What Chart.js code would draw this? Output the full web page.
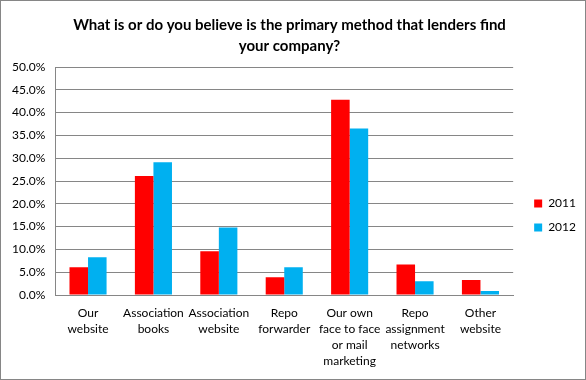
<!DOCTYPE html>
<html><head><meta charset="utf-8">
<script src="https://cdn.jsdelivr.net/npm/chart.js@4/dist/chart.umd.min.js"></script>
<style>
html,body{margin:0;padding:0;background:#fff;}
#wrap{position:absolute;left:0;top:0;width:584px;height:378px;border:1px solid #868686;}
</style></head>
<body><div id="wrap"><canvas id="c" width="584" height="378"></canvas></div>
<script>
const categories = [["Our","website"],["Association","books"],["Association","website"],["Repo","forwarder"],["Our own","face to face","or mail","marketing"],["Repo","assignment","networks"],["Other","website"]];
const series2011 = [6.1, 26.1, 9.6, 3.9, 42.8, 6.7, 3.3];
const series2012 = [8.3, 29.1, 14.8, 6.1, 36.5, 3.0, 0.9];
const yTicks = [0,5,10,15,20,25,30,35,40,45,50];
const FONT = "Lato, 'Liberation Sans', sans-serif";
const legendShift = {
  id:'legendShift',
  afterLayout(chart){
    const L = chart.legend; if(!L) return;
    L.top += 24; L.bottom += 24; L.left += 9; L.right += 9;
  }
};
new Chart(document.getElementById('c'), {
  type: 'bar',
  data: {
    labels: categories,
    datasets: [
      {label:'2011', data: series2011, backgroundColor:'#FF0000', borderWidth:0},
      {label:'2012', data: series2012, backgroundColor:'#00B0F0', borderWidth:0}
    ]
  },
  plugins:[legendShift],
  options: {
    responsive:false, animation:false,
    layout:{padding:{left:1,right:8,top:3,bottom:0}},
    datasets:{bar:{categoryPercentage:0.567,barPercentage:1}},
    plugins:{
      title:{display:true,text:["What is or do you believe is the primary method that lenders find","your company?"],
        color:'#000',font:{family:FONT,size:15,weight:'bold',lineHeight:1.4},padding:{top:11,bottom:10}},
      legend:{position:'right',labels:{boxWidth:8,boxHeight:8,padding:12,color:'#000',font:{family:FONT,size:12}}},
      tooltip:{enabled:false}
    },
    scales:{
      x:{grid:{display:false,drawTicks:false},border:{color:'#868686'},
        ticks:{color:'#000',font:{family:FONT,size:12,lineHeight:'16px'},maxRotation:0,autoSkip:false,padding:10}},
      y:{min:0,max:50,afterBuildTicks:(ax)=>{ax.ticks=yTicks.map(v=>({value:v}));},
        grid:{color:'#868686',drawTicks:false},border:{color:'#868686'},
        ticks:{color:'#000',font:{family:FONT,size:12},padding:10,callback:v=>v.toFixed(1)+'%'}}
    }
  }
});
</script></body></html>
